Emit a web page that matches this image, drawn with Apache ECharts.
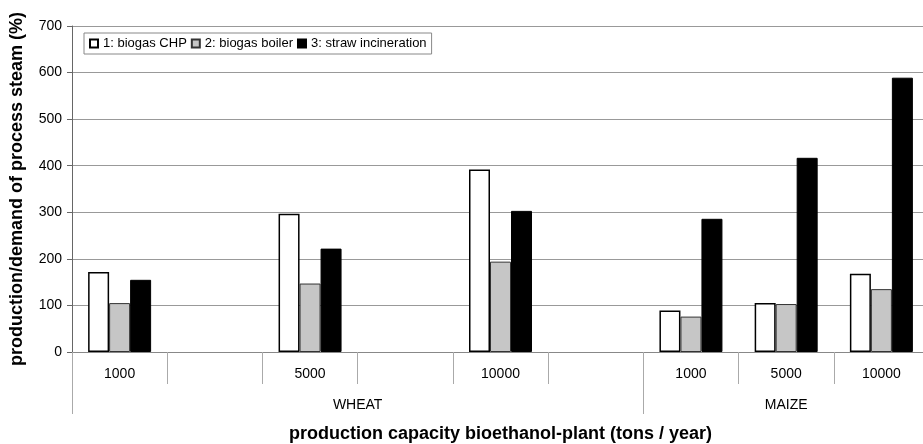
<!DOCTYPE html>
<html>
<head>
<meta charset="utf-8">
<script src="https://cdn.jsdelivr.net/npm/echarts@6/dist/echarts.min.js"></script>
<style>
  html, body { margin: 0; padding: 0; background: #fff; }
  #chart { width: 923px; height: 444px; }
</style>
</head>
<body>
<div id="chart"></div>
<script>
// capacity labels (blank slots are the gaps between wheat plants)
var capacities = ['1000', '', '5000', '', '10000', '', '1000', '5000', '10000'];
var crops = ['WHEAT', 'MAIZE'];
var cropSpan = [0, 6, 9];          // category index where each crop group starts/ends
var yTicks = [0, 100, 200, 300, 400, 500, 600, 700];

var biogasCHP    = [172, null, 297, null, 392, null, 89, 105, 168];
var biogasBoiler = [105, null, 147, null, 194, null, 76, 103, 135];
var strawInc     = [155, null, 222, null, 303, null, 286, 417, 589];

var font = "'Liberation Sans', Arial, sans-serif";

var chart = echarts.init(document.getElementById('chart'));

var option = {
    backgroundColor: '#fff',
    animation: false,
    textStyle: { fontFamily: font, color: '#000' },
    grid: { left: 72, top: 26, width: 857, height: 326, outerBoundsMode: 'none' },
    legend: {
        left: 84,
        top: 33,
        padding: [4, 5],
        itemWidth: 8,
        itemHeight: 8,
        itemGap: 4,
        borderColor: '#888',
        borderWidth: 1,
        icon: 'rect',
        textStyle: { fontFamily: font, fontSize: 13, color: '#000' },
        data: ['1: biogas CHP', '2: biogas boiler', '3: straw incineration']
    },
    xAxis: [
        {
            type: 'category',
            data: capacities,
            position: 'bottom',
            axisLine: { lineStyle: { color: '#888', width: 1 } },
            axisTick: { show: true, interval: 0, length: 32, lineStyle: { color: '#aaa' } },
            axisLabel: { interval: 0, margin: 15, fontSize: 14, color: '#000', fontFamily: font },
            splitLine: { show: false }
        },
        {
            type: 'value',
            min: cropSpan[0],
            max: cropSpan[2],
            position: 'bottom',
            axisLine: { show: false },
            splitLine: { show: false },
            axisTick: {
                show: true,
                customValues: cropSpan,
                length: 62,
                lineStyle: { color: '#aaa' }
            },
            axisLabel: {
                customValues: [(cropSpan[0] + cropSpan[1]) / 2, (cropSpan[1] + cropSpan[2]) / 2],
                formatter: function (v) {
                    return v < cropSpan[1] ? crops[0] : crops[1];
                },
                margin: 46,
                fontSize: 14,
                color: '#000',
                fontFamily: font
            },
            name: 'production capacity bioethanol-plant (tons / year)',
            nameLocation: 'middle',
            nameGap: 73,
            nameTextStyle: { fontSize: 18, fontWeight: 'bold', color: '#000', fontFamily: font }
        }
    ],
    yAxis: {
        type: 'value',
        min: yTicks[0],
        max: yTicks[yTicks.length - 1],
        interval: 100,
        name: 'production/demand of process steam (%)',
        nameLocation: 'middle',
        nameGap: 46,
        nameTextStyle: { fontSize: 18, fontWeight: 'bold', color: '#000', fontFamily: font },
        axisLine: { show: true, lineStyle: { color: '#666', width: 1 } },
        axisTick: { show: true, length: 5, lineStyle: { color: '#666' } },
        axisLabel: { fontSize: 14, color: '#000', margin: 10, fontFamily: font },
        splitLine: { lineStyle: { color: '#999', width: 1 } }
    },
    series: [
        {
            name: '1: biogas CHP',
            type: 'bar',
            data: biogasCHP,
            barWidth: 21,
            barGap: '0%',
            itemStyle: { color: '#fff', borderColor: '#000', borderWidth: 1.5 }
        },
        {
            name: '2: biogas boiler',
            type: 'bar',
            data: biogasBoiler,
            barWidth: 21,
            barGap: '0%',
            itemStyle: { color: '#c6c6c6', borderColor: '#333', borderWidth: 1 }
        },
        {
            name: '3: straw incineration',
            type: 'bar',
            data: strawInc,
            barWidth: 21,
            barGap: '0%',
            itemStyle: { color: '#000', borderColor: '#000', borderWidth: 1 }
        }
    ]
};

chart.setOption(option);
</script>
</body>
</html>
